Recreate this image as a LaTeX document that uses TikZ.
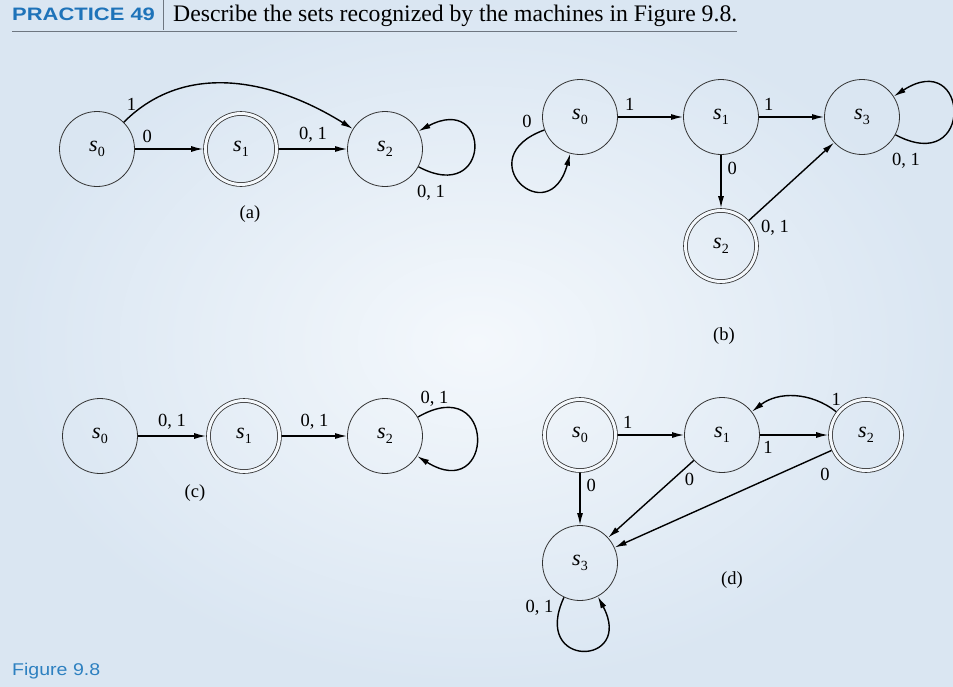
\documentclass[tikz,border=0pt]{standalone}
\usepackage{fontspec}
\setmainfont{Liberation Serif}
\newfontfamily\headfont{Liberation Sans}
\usetikzlibrary{arrows.meta}

\definecolor{bgedge}{RGB}{218,230,242}
\definecolor{bgmid}{RGB}{244,248,252}
\definecolor{headblue}{RGB}{30,115,185}
\definecolor{figblue}{RGB}{45,128,192}
\definecolor{rulegray}{RGB}{110,118,128}
\definecolor{inkgray}{RGB}{50,50,50}

\newcommand{\sn}[1]{\textit{s}\kern0.3pt\raisebox{-0.45ex}{\fontsize{14}{14}\selectfont #1}}

\begin{document}
\begin{tikzpicture}[
    x=1pt, y=-1pt,
    node distance=144pt,
    state/.style={circle, draw=inkgray, line width=0.8pt, minimum size=75pt, inner sep=0pt, font=\fontsize{22}{24}\selectfont},
    accept/.style={state, double=bgmid, double distance=3pt, minimum size=71pt, outer sep=2.3pt},
    trans/.style={-{Latex[length=12pt,width=6pt]}, line width=1.4pt, black},
    lbl/.style={font=\fontsize{18.5}{20}\selectfont, inner sep=4pt},
    caption/.style={font=\fontsize{18.5}{20}\selectfont}
]

\shade[inner color=bgmid, outer color=bgedge] (0,0) rectangle (953,686);
\useasboundingbox (0,0) rectangle (953,686);

% Heading
\node[anchor=base west, inner sep=0pt, text=headblue, font=\headfont\bfseries\fontsize{18}{20}\selectfont] (practice) at (12,20) {\scalebox{1.22}[1]{PRACTICE 49}};
\draw[rulegray, line width=0.6pt] (163,0) -- (163,30);
\node[anchor=base west, inner sep=0pt, font=\fontsize{23.7}{25}\selectfont] (task) at (173,21) {Describe the sets recognized by the machines in Figure 9.8.};
\draw[rulegray, line width=0.8pt] (12,31) -- (737,31);

% Machine (a)
\node[state] (a0) at (97,149) {\sn{0}};
\node[accept, right of=a0] (a1) {\sn{1}};
\node[state, right of=a1] (a2) {\sn{2}};
\node[caption] (capa) at (250,214) {(a)};

% Machine (b)
\node[state] (b0) at (580,117) {\sn{0}};
\node[state, right of=b0, xshift=-3pt] (b1) {\sn{1}};
\node[state, right of=b1, xshift=-3pt] (b3) {\sn{3}};
\node[accept, below of=b1, yshift=15pt] (b2) {\sn{2}};
\node[caption] (capb) at (724,336) {(b)};

% Machine (c)
\node[state] (c0) at (100,436) {\sn{0}};
\node[accept, right of=c0] (c1) {\sn{1}};
\node[state, right of=c1, xshift=-3pt] (c2) {\sn{2}};
\node[caption] (capc) at (195,493) {(c)};

% Machine (d)
\node[accept] (d0) at (580,435) {\sn{0}};
\node[state, right of=d0, xshift=-2pt] (d1) {\sn{1}};
\node[accept, right of=d1] (d2) {\sn{2}};
\node[state, below of=d0, yshift=16pt] (d3) {\sn{3}};
\node[caption] (capd) at (732,580) {(d)};

\node[anchor=base west, inner sep=0pt, text=figblue, font=\headfont\fontsize{17}{19}\selectfont] (figname) at (12,675) {\scalebox{1.15}[1]{Figure 9.8}};

% Arrows
\draw[trans] (a0) -- node[lbl, pos=0.18, above, yshift=2pt] {0} (a1);
\draw[trans] (a1) -- node[lbl, above, yshift=2pt] {0, 1} (a2);
\draw[trans] (a0) to[out=45, in=148] node[lbl, pos=0.04, above] {1} (a2);
\draw[trans] (a2) to[out=-28, in=28, looseness=6] node[lbl, pos=0, anchor=north west, xshift=-6pt, yshift=-14pt] {0, 1} (a2);

\draw[trans] (b0) -- node[lbl, pos=0.18, above, yshift=2pt] {1} (b1);
\draw[trans] (b1) -- node[lbl, pos=0.15, above, yshift=2pt] {1} (b3);
\draw[trans] (b1) -- node[lbl, pos=0.25, right, xshift=2pt] {0} (b2);
\draw[trans] (b2) -- node[lbl, pos=0.04, below right, xshift=4pt, yshift=2pt] {0, 1} (b3);
\draw[trans] (b0) to[out=200, in=255, looseness=6] node[lbl, pos=0, above left, xshift=-8pt, yshift=-2pt] {0} (b0);
\draw[trans] (b3) to[out=-28, in=33, looseness=6] node[lbl, pos=0, anchor=north west, xshift=-8pt, yshift=-14pt] {0, 1} (b3);

\draw[trans] (c0) -- node[lbl, above, yshift=2pt] {0, 1} (c1);
\draw[trans] (c1) -- node[lbl, above, yshift=2pt] {0, 1} (c2);
\draw[trans] (c2) to[out=30, in=-32, looseness=6] node[lbl, pos=0, anchor=south west, xshift=-2pt, yshift=6pt] {0, 1} (c2);

\draw[trans] (d0) -- node[lbl, pos=0.15, above, yshift=2pt] {1} (d1);
\draw[trans] (d1) -- node[lbl, pos=0.12, below, yshift=-2pt] {1} (d2);
\draw[trans] (d2) to[bend right=38] node[lbl, pos=0, above, yshift=2pt] {1} (d1);
\draw[trans] (d0) -- node[lbl, pos=0.25, right, xshift=2pt] {0} (d3);
\draw[trans] (d1) -- node[lbl, pos=0.05, below, yshift=-4pt] {0} (d3);
\draw[trans] (d2) -- node[lbl, pos=0.03, below, yshift=-10pt] {0} (d3);
\draw[trans] (d3) to[out=-115, in=-62, looseness=6] node[lbl, pos=0, anchor=north east, xshift=-6pt, yshift=2pt] {0, 1} (d3);

\end{tikzpicture}
\end{document}
